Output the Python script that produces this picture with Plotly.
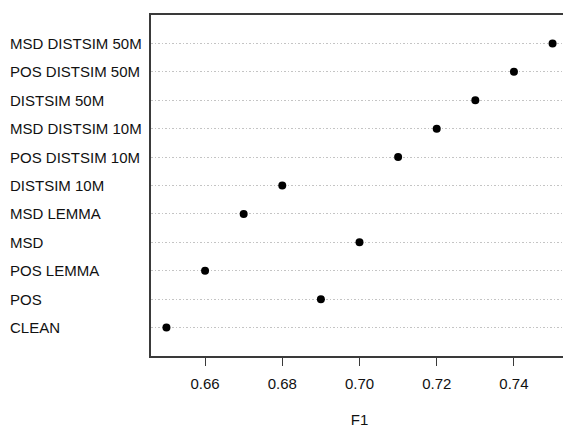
import plotly.graph_objects as go

# Data (top to bottom as in the chart)
labels = ["MSD DISTSIM 50M", "POS DISTSIM 50M", "DISTSIM 50M", "MSD DISTSIM 10M",
          "POS DISTSIM 10M", "DISTSIM 10M", "MSD LEMMA", "MSD", "POS LEMMA", "POS", "CLEAN"]
f1 = [0.75, 0.74, 0.73, 0.72, 0.71, 0.68, 0.67, 0.70, 0.66, 0.69, 0.65]
xticks = [0.66, 0.68, 0.70, 0.72, 0.74]
xrange_ = [0.646, 0.754]

order = labels[::-1]  # bottom to top

FONT = "Liberation Sans, Arial, sans-serif"
AX = "#3a3a3a"
TXT = "#111111"

fig = go.Figure()
fig.add_trace(go.Scatter(
    x=f1, y=labels, mode="markers",
    marker=dict(color="black", size=8),
    hoverinfo="skip", showlegend=False,
))

for lab in labels:
    fig.add_annotation(
        x=0, xref="paper", y=lab, yref="y", text=lab, showarrow=False,
        xanchor="left", xshift=-143, font=dict(family=FONT, size=15, color=TXT),
    )

fig.update_layout(
    width=570, height=428,
    margin=dict(l=151, r=2, t=15, b=70),
    paper_bgcolor="white", plot_bgcolor="white",
    font=dict(family=FONT, size=15, color=TXT),
    xaxis=dict(
        range=xrange_, tickvals=xticks, tickformat=".2f",
        ticks="outside", ticklen=8, tickwidth=1.2, tickcolor=AX,
        ticklabelstandoff=5,
        showline=True, linecolor=AX, linewidth=1.5, mirror=True,
        showgrid=False, zeroline=False,
        tickfont=dict(family=FONT, size=15, color=TXT),
        title=dict(text="F1", standoff=24, font=dict(family=FONT, size=15, color=TXT)),
    ),
    yaxis=dict(
        type="category", categoryorder="array", categoryarray=order,
        range=[-1, len(labels)], showticklabels=False, ticks="",
        showline=True, linecolor=AX, linewidth=1.5, mirror=False,
        showgrid=True, gridcolor="#c4c4c4", gridwidth=1, griddash="1.5px,2px",
        zeroline=False,
    ),
)

fig.write_html(
    "out.html",
    config={"displayModeBar": False},
    post_script="document.body.style.margin='0';document.body.style.overflow='hidden';",
)
